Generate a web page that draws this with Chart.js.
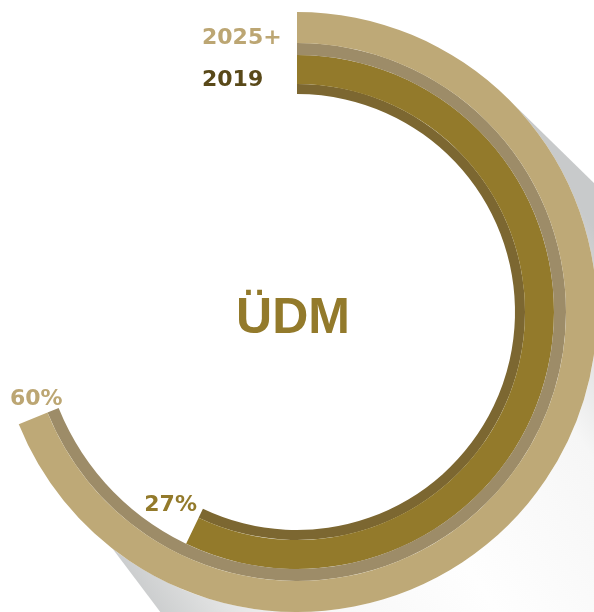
<!DOCTYPE html>
<html>
<head>
<meta charset="utf-8">
<script src="https://cdn.jsdelivr.net/npm/chart.js@4.4.1/dist/chart.umd.min.js"></script>
<style>
  html, body { margin: 0; padding: 0; background: #fff; overflow: hidden; }
  body { width: 594px; height: 612px; position: relative; }
  .ring-wrap { position: absolute; left: -3px; top: 12px; width: 600px; height: 600px; }
</style>
</head>
<body>
<div class="ring-wrap"><canvas id="ringChart"></canvas></div>
<script>
// data
const seriesLabels = ['2025+', '2019'];
const shareValues = [60, 27];        // printed percentages
const arcSweep = [68.9, 57.1];       // how far each ring runs in the picture, % of a full turn
const centerTitle = 'ÜDM';

// look
const ringColors = [['#bea977', '#9d8c68'], ['#937a2b', '#7c6731']]; // main band, inner edge band
const ringWeights = [[31, 12], [29, 10]];
const labelColors = ['#bca673', '#594919'];
const pctColors = ['#bca673', '#937a2b'];
const pctNudge = [[4, -3], [-6, 2]];
const numFont = 'bold 22px "DejaVu Sans"';
const shadowDirs = [44.4, 53]; // degrees below the x axis, right edge / left edge

const datasets = [];
arcSweep.forEach((v, i) => {
  [0, 1].forEach(b => {
    datasets.push({
      label: seriesLabels[i],
      data: [v, 100 - v],
      backgroundColor: [ringColors[i][b], 'rgba(0,0,0,0)'],
      weight: ringWeights[i][b],
    });
  });
});

// soft long shadow toward lower right
const ringShadow = {
  id: 'ringShadow',
  beforeDatasetsDraw(chart) {
    const arc = chart.getDatasetMeta(0).data[0];
    if (!arc) return;
    const { ctx } = chart;
    const { x, y, outerRadius: r } = arc;
    const far = 1500;
    const aR = shadowDirs[0] * Math.PI / 180;
    const aL = shadowDirs[1] * Math.PI / 180;
    // right edge: tangent to the ring; left edge: from the outer corner of the ring end
    const tR = [x + r * Math.sin(aR), y - r * Math.cos(aR)];
    const tL = [x + r * Math.cos(arc.endAngle), y + r * Math.sin(arc.endAngle)];
    const g = ctx.createLinearGradient(tL[0], tL[1], tR[0], tR[1]);
    g.addColorStop(0, '#c8cacb');
    g.addColorStop(0.1, '#dedfdf');
    g.addColorStop(0.22, '#f6f6f6');
    g.addColorStop(0.5, '#fefefe');
    g.addColorStop(0.78, '#f6f6f6');
    g.addColorStop(0.9, '#dedfdf');
    g.addColorStop(1, '#c8cacb');
    ctx.save();
    ctx.beginPath();
    ctx.moveTo(tR[0], tR[1]);
    ctx.lineTo(tR[0] + far * Math.cos(aR), tR[1] + far * Math.sin(aR));
    ctx.lineTo(tL[0] + far * Math.cos(aL), tL[1] + far * Math.sin(aL));
    ctx.lineTo(tL[0], tL[1]);
    ctx.closePath();
    ctx.fillStyle = g;
    ctx.fill();
    ctx.beginPath();
    ctx.arc(x, y, r, 0, Math.PI * 2);
    ctx.fillStyle = '#fff';
    ctx.fill();
    ctx.restore();
  }
};

const ringLabels = {
  id: 'ringLabels',
  afterDatasetsDraw(chart) {
    const { ctx } = chart;
    ctx.save();
    seriesLabels.forEach((name, i) => {
      const outer = chart.getDatasetMeta(i * 2).data[0];
      const inner = chart.getDatasetMeta(i * 2 + 1).data[0];
      if (!outer || !inner) return;
      const cx = outer.x, cy = outer.y;
      ctx.font = numFont;
      // series name left of the ring start
      ctx.fillStyle = labelColors[i];
      ctx.textAlign = 'left';
      ctx.textBaseline = 'alphabetic';
      ctx.fillText(name, cx - 95, cy - outer.outerRadius + 31.5);
      // percentage near the ring end
      const a = inner.endAngle;
      const px = cx + inner.innerRadius * Math.cos(a);
      const py = cy + inner.innerRadius * Math.sin(a);
      ctx.fillStyle = pctColors[i];
      ctx.textAlign = 'right';
      ctx.fillText(shareValues[i] + '%', px + pctNudge[i][0], py + pctNudge[i][1]);
    });
    const m = chart.getDatasetMeta(0).data[0];
    if (m) {
      ctx.font = 'bold 50px "Liberation Sans", Arial, sans-serif';
      ctx.fillStyle = '#937a2b';
      ctx.textAlign = 'center';
      ctx.textBaseline = 'alphabetic';
      ctx.fillText(centerTitle, m.x - 4, m.y + 21);
    }
    ctx.restore();
  }
};

new Chart(document.getElementById('ringChart'), {
  type: 'doughnut',
  data: { labels: ['value', 'rest'], datasets },
  options: {
    responsive: true,
    maintainAspectRatio: false,
    animation: false,
    events: [],
    cutout: '72.67%',
    radius: '100%',
    rotation: 0,
    circumference: 360,
    layout: { padding: 0 },
    elements: { arc: { borderWidth: 0, hoverBorderWidth: 0, offset: 0, hoverOffset: 0 } },
    plugins: { legend: { display: false }, tooltip: { enabled: false } },
  },
  plugins: [ringShadow, ringLabels],
});
</script>
</body>
</html>
